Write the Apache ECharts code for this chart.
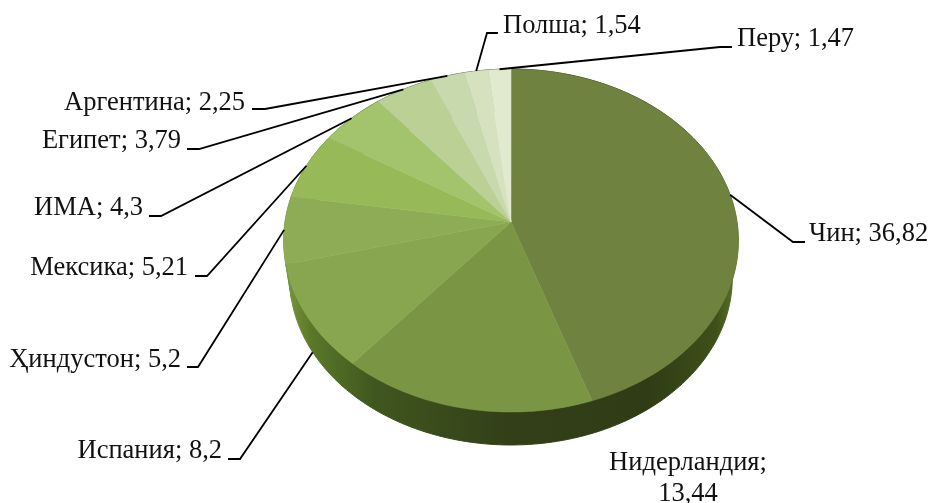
<!DOCTYPE html>
<html>
<head>
<meta charset="utf-8">
<style>
html, body { margin: 0; background: #fff; }
#pie3d { width: 931px; height: 503px; }
</style>
<script src="https://cdn.jsdelivr.net/npm/echarts@6/dist/echarts.min.js"></script>
</head>
<body>
<div id="pie3d"></div>
<script>
var names = ['Чин', 'Нидерландия', 'Испания', 'Ҳиндустон', 'Мексика', 'ИМА', 'Египет', 'Аргентина', 'Полша', 'Перу'];
var values = [36.82, 13.44, 8.2, 5.2, 5.21, 4.3, 3.79, 2.25, 1.54, 1.47];
var colors = ['#6f823f', '#7a9645', '#87a64f', '#8dac55', '#98b958', '#a3c46d', '#bbd095', '#c9d9ae', '#d6e2bf', '#e1e9cf'];

// подписи: x, y текста, выравнивание, колено выноски [x, y, x конца полочки], сдвиг начала выноски
var labelPos = [
    { x: 809, y: 234, align: 'left', elbow: [793, 242, 805] },
    { x: 688, y: 479, align: 'center' },
    { x: 222, y: 451, align: 'right', elbow: [240, 459, 228], drop: 35 },
    { x: 181, y: 360, align: 'right', elbow: [198, 367, 187] },
    { x: 188, y: 268, align: 'right', elbow: [207, 276, 195] },
    { x: 143, y: 208, align: 'right', elbow: [161, 216, 149] },
    { x: 181, y: 141, align: 'right', elbow: [199, 149, 187] },
    { x: 245, y: 103, align: 'right', elbow: [265, 109, 252] },
    { x: 503, y: 26, align: 'left', elbow: [487, 33, 498] },
    { x: 737, y: 39, align: 'left', elbow: [720, 47, 732] }
];

var total = values.reduce(function (a, b) { return a + b; }, 0);
var starts = [];
values.reduce(function (sum, v) { starts.push(sum); return sum + v; }, 0);

var cx = 511, cy = 222;
var persp = 0.108;

// угол по часовой от верха -> точка на ободе с перспективой
function rim(angle, side) {
    var u = Math.sin(angle), v = Math.cos(angle);
    var d = 1 + persp * v;
    if (side) {
        return [cx + 220 * u / d, cy + 38 - 165 * v / d];
    }
    return [cx + 226 * u / d, cy - 169.5 * v / d];
}
function arc(a0, a1, side) {
    var pts = [];
    var n = Math.max(2, Math.ceil(Math.abs(a1 - a0) / 0.02));
    for (var i = 0; i <= n; i++) {
        pts.push(rim(a0 + (a1 - a0) * i / n, side));
    }
    return pts;
}
function angles(i) {
    return [starts[i] / total * Math.PI * 2, (starts[i] + values[i]) / total * Math.PI * 2];
}

var sideFill = {
    type: 'linear', global: true, x: 284, y: 0, x2: 739, y2: 0,
    colorStops: [
        { offset: 0, color: '#7c9a3c' },
        { offset: 0.06, color: '#5a7829' },
        { offset: 0.2, color: '#40561f' },
        { offset: 0.5, color: '#323f18' },
        { offset: 0.8, color: '#2f3c16' },
        { offset: 0.95, color: '#3f5019' },
        { offset: 1, color: '#5f7a2c' }
    ]
};

function renderSide(params, api) {
    var a = angles(params.dataIndex);
    var pts = arc(a[0], a[1], true).concat(arc(a[1], a[0], false));
    return { type: 'polygon', shape: { points: pts }, style: { fill: sideFill, stroke: sideFill, lineWidth: 1 } };
}

function renderTop(params, api) {
    var i = params.dataIndex;
    var a = angles(i);
    var pts = [[cx, cy]].concat(arc(a[0], a[1], false));
    return { type: 'polygon', shape: { points: pts }, style: { fill: colors[i], stroke: colors[i], lineWidth: 0.5 } };
}

function renderLabel(params, api) {
    var i = params.dataIndex;
    var a = angles(i);
    var p = labelPos[i];
    var kids = [];
    var text = names[i] + ';' + (p.elbow ? ' ' : '\n') + String(api.value(0)).replace('.', ',');
    kids.push({
        type: 'text',
        style: {
            x: p.x, y: p.y, text: text, fill: '#111',
            font: '26.5px "Liberation Serif"', lineHeight: 31,
            align: p.align, verticalAlign: 'middle'
        }
    });
    if (p.elbow) {
        var start = rim((a[0] + a[1]) / 2, false);
        if (p.drop) {
            start = [start[0] + 5, start[1] + p.drop];
        }
        kids.push({
            type: 'polyline',
            shape: { points: [start, [p.elbow[0], p.elbow[1]], [p.elbow[2], p.elbow[1]]] },
            style: { fill: 'none', stroke: '#000', lineWidth: 1.8 }
        });
    }
    return { type: 'group', children: kids };
}

var chart = echarts.init(document.getElementById('pie3d'));
var option = {
    animation: false,
    backgroundColor: '#fff',
    series: [
        { type: 'custom', coordinateSystem: 'none', renderItem: renderSide, data: values, silent: true },
        { type: 'custom', coordinateSystem: 'none', renderItem: renderTop, data: values, silent: true },
        { type: 'custom', coordinateSystem: 'none', renderItem: renderLabel, data: values, silent: true }
    ]
};
chart.setOption(option);
</script>
</body>
</html>
